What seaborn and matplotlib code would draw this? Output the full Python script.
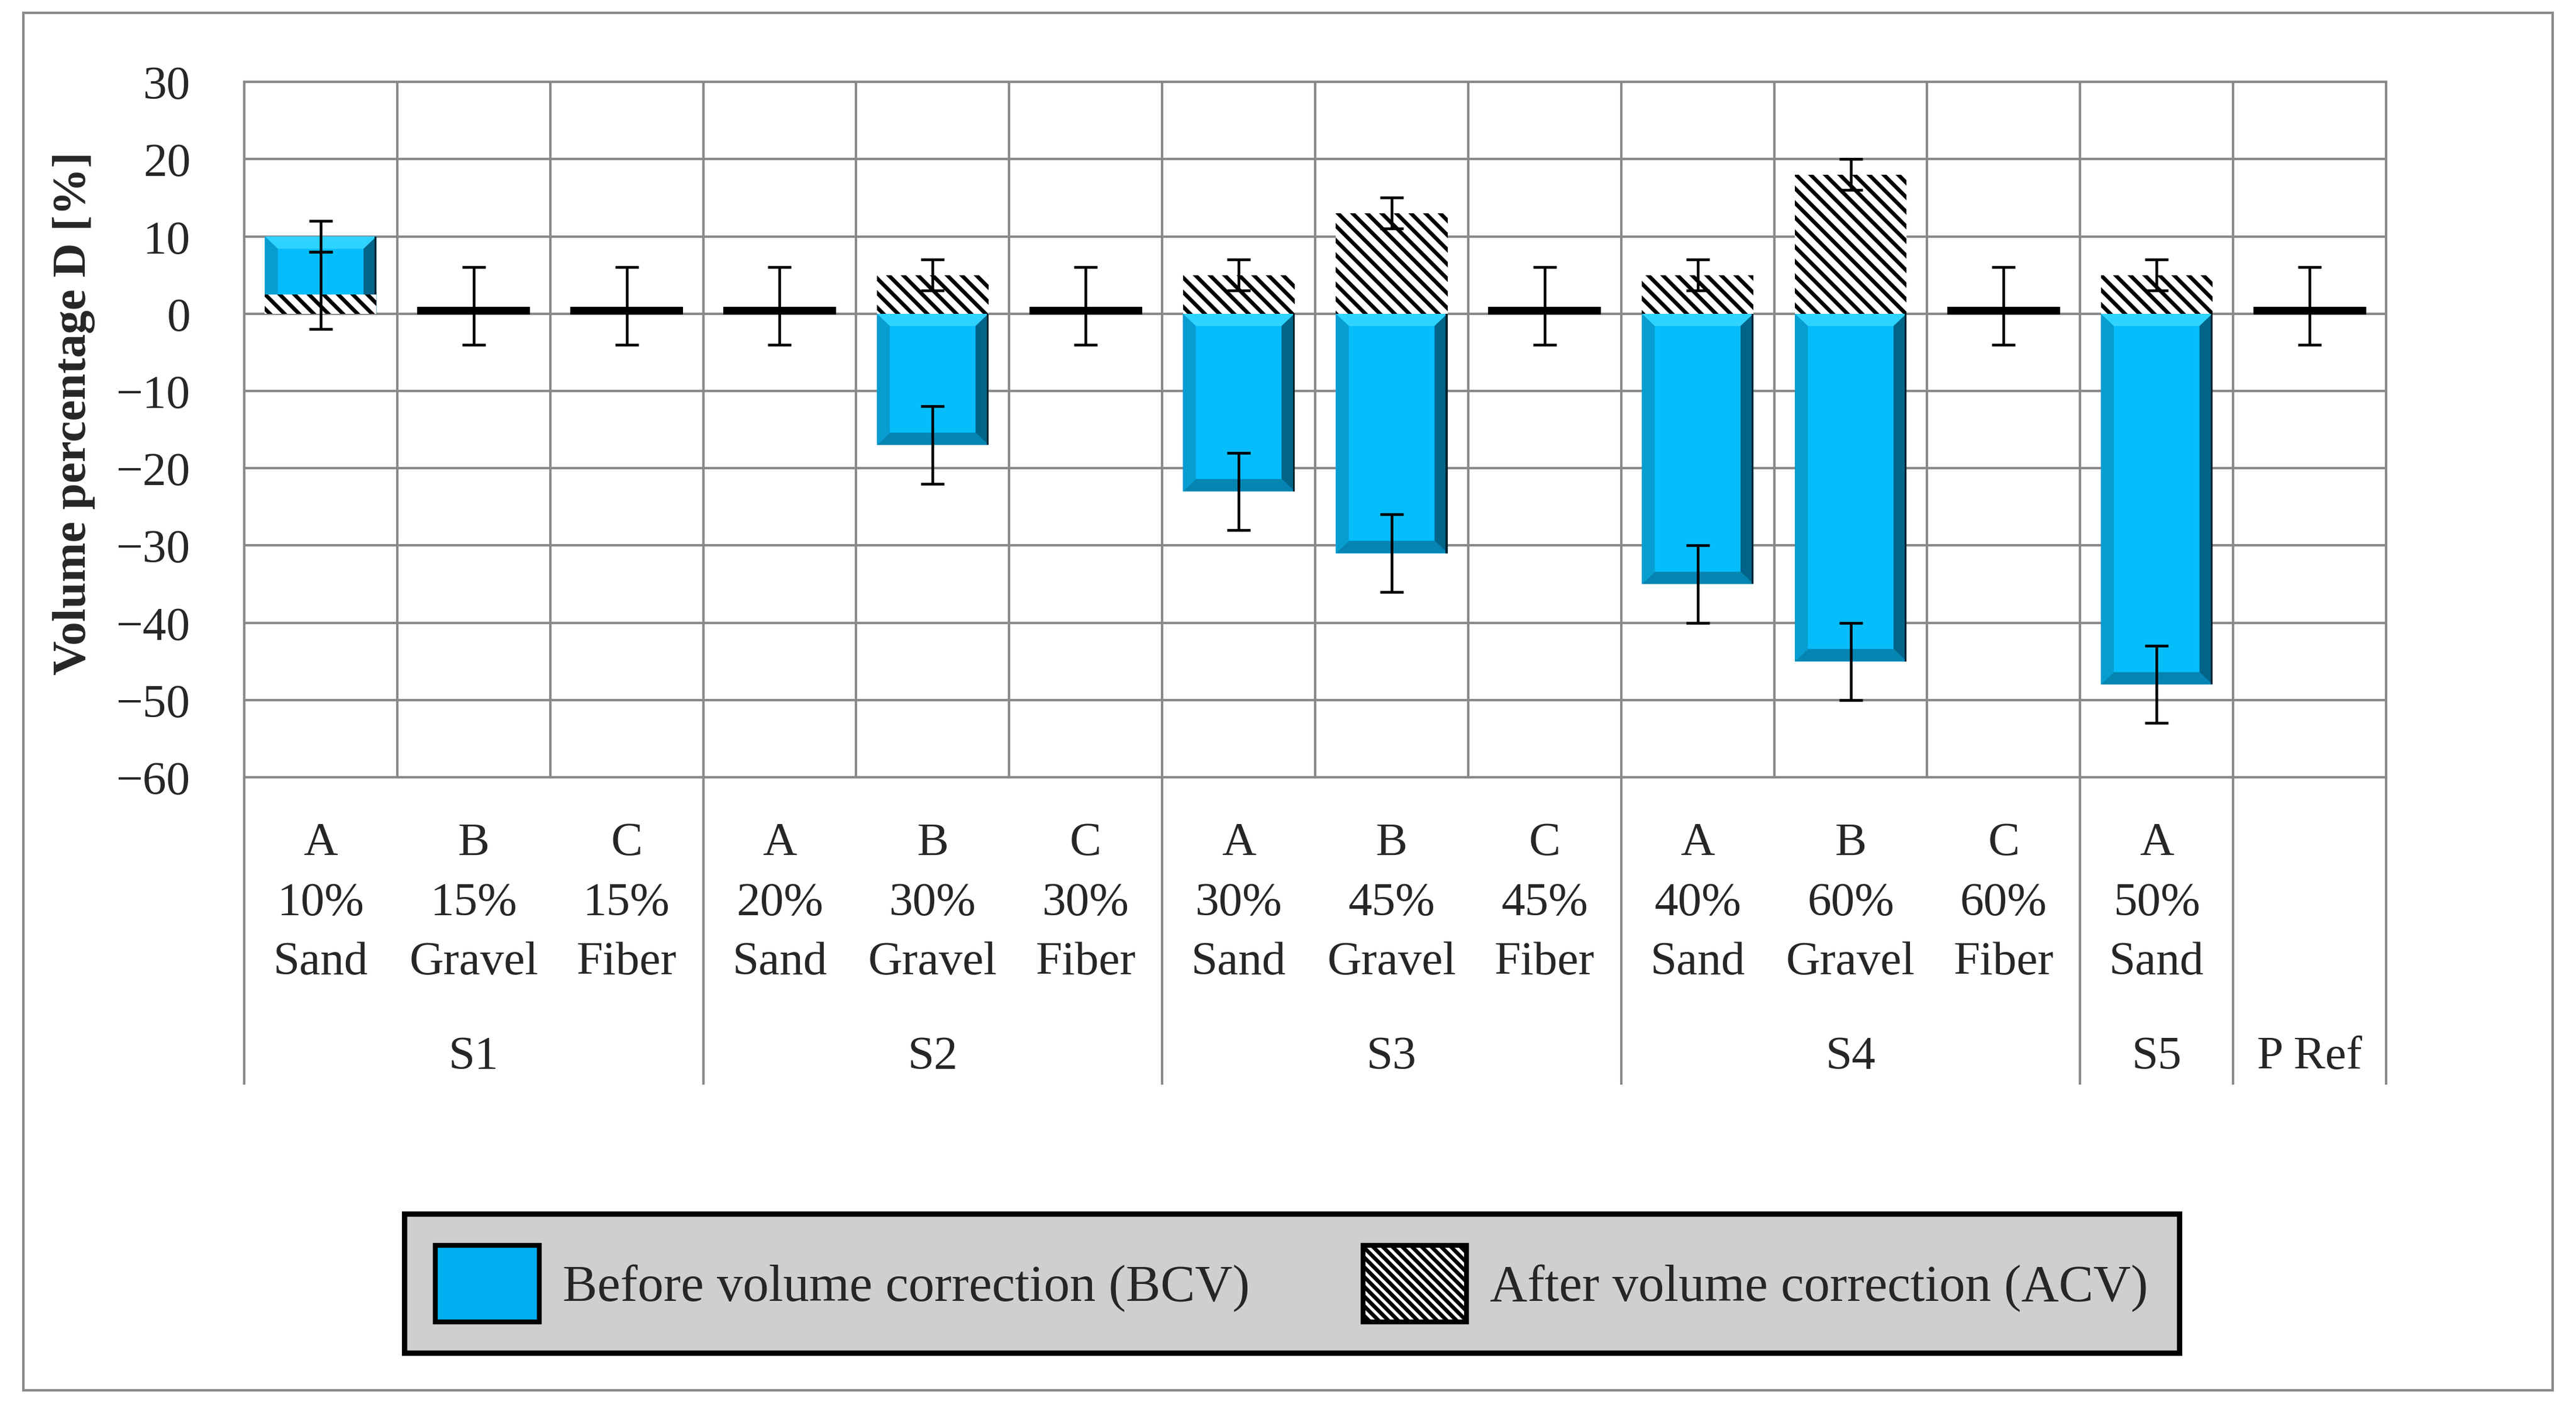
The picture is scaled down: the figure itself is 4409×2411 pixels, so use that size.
import numpy as np
import pandas as pd
import matplotlib
matplotlib.use('Agg')
import matplotlib.pyplot as plt
import matplotlib.transforms as mtransforms
from matplotlib.patches import Patch, Rectangle, Polygon
import seaborn as sns

#%%
'''Data'''
groups = ['S1', 'S1', 'S1', 'S2', 'S2', 'S2', 'S3', 'S3', 'S3', 'S4', 'S4', 'S4', 'S5', 'P Ref']
letters = ['A', 'B', 'C', 'A', 'B', 'C', 'A', 'B', 'C', 'A', 'B', 'C', 'A', '']
percents = ['10%', '15%', '15%', '20%', '30%', '30%', '30%', '45%', '45%', '40%', '60%', '60%', '50%', '']
materials = ['Sand', 'Gravel', 'Fiber', 'Sand', 'Gravel', 'Fiber', 'Sand', 'Gravel', 'Fiber',
             'Sand', 'Gravel', 'Fiber', 'Sand', '']

# before volume correction
bcv = [10, 0, 0, 0, -17, 0, -23, -31, 0, -35, -45, 0, -48, 0]
bcv_lo = [8, np.nan, np.nan, np.nan, -22, np.nan, -28, -36, np.nan, -40, -50, np.nan, -53, np.nan]
bcv_hi = [12, np.nan, np.nan, np.nan, -12, np.nan, -18, -26, np.nan, -30, -40, np.nan, -43, np.nan]

# after volume correction
acv = [2.5, 0.8, 0.8, 0.8, 5, 0.8, 5, 13, 0.8, 5, 18, 0.8, 5, 0.8]
acv_lo = [-2, -4, -4, -4, 3, -4, 3, 11, -4, 3, 16, -4, 3, -4]
acv_hi = [8, 6, 6, 6, 7, 6, 7, 15, 6, 7, 20, 6, 7, 6]

yticks = [-60, -50, -40, -30, -20, -10, 0, 10, 20, 30]

#%%
'''Plot'''
sns.set_theme(style='white')
plt.rcParams['font.family'] = ['Liberation Serif', 'DejaVu Serif']
plt.rcParams['hatch.linewidth'] = 1.6

blue = '#05BDFB'
grid_c = '#898989'
fs = 19.5

fig = plt.figure(figsize=(4409 / 300, 2412 / 300), dpi=300)
ax = fig.add_axes([0.0948, 0.4482, 0.8315, 0.4933])

ids = [f'{g}-{i}' for i, g in enumerate(groups)]
df = pd.DataFrame({'id': ids, 'bcv': bcv, 'acv': acv})

sns.barplot(data=df, x='id', y='bcv', order=ids, color=blue, saturation=1,
            width=0.73, errorbar=None, ax=ax)
n_bcv = len(ax.patches)

# simple bevel look on the blue bars (built from the bar patches)
dx = 0.085
dy = 1.6
for p in ax.patches[:n_bcv]:
    p.set_linewidth(0)
    h = p.get_height()
    if abs(h) < 1e-9:
        continue
    x0, w, y0 = p.get_x(), p.get_width(), p.get_y()
    y1 = y0 + h
    top, bot = max(y0, y1), min(y0, y1)
    d = min(dy, (top - bot) / 2)
    faces = [
        ([(x0, top), (x0 + w, top), (x0 + w - dx, top - d), (x0 + dx, top - d)], '#2FD3FF'),
        ([(x0, bot), (x0 + w, bot), (x0 + w - dx, bot + d), (x0 + dx, bot + d)], '#0785B2'),
        ([(x0, top), (x0 + dx, top - d), (x0 + dx, bot + d), (x0, bot)], '#079DD0'),
        ([(x0 + w, top), (x0 + w - dx, top - d), (x0 + w - dx, bot + d), (x0 + w, bot)], '#036489'),
    ]
    for pts, c in faces:
        ax.add_patch(Polygon(pts, closed=True, facecolor=c, edgecolor='none', zorder=p.get_zorder()))
    ax.add_patch(Rectangle((x0 + w - 0.012, bot), 0.012, top - bot, facecolor='#02222E',
                           edgecolor='none', zorder=p.get_zorder()))

n_all = len(ax.patches)
sns.barplot(data=df, x='id', y='acv', order=ids, color='white', saturation=1,
            width=0.73, errorbar=None, ax=ax)
for p, v in zip(ax.patches[n_all:], acv):
    p.set_zorder(3)
    if v < 1:
        p.set_facecolor('black')
        p.set_edgecolor('black')
        p.set_linewidth(0.5)
    else:
        p.set_facecolor('white')
        p.set_edgecolor('black')
        p.set_hatch('\\' * 4)
        p.set_linewidth(0)

# error bars
xs = np.arange(len(ids))
for lo, hi in [(bcv_lo, bcv_hi), (acv_lo, acv_hi)]:
    lo = np.array(lo, dtype=float)
    hi = np.array(hi, dtype=float)
    ok = ~np.isnan(lo)
    ax.errorbar(xs[ok], (lo[ok] + hi[ok]) / 2, yerr=(hi[ok] - lo[ok]) / 2, fmt='none',
                ecolor='black', elinewidth=1.1, capsize=4.8, capthick=1.1, zorder=5)

ax.set_xlim(-0.5, len(ids) - 0.5)
ax.set_ylim(-60, 30)
ax.set_yticks(yticks)
ax.set_yticklabels([str(t).replace('-', '\u2212') for t in yticks], fontsize=fs)
ax.set_xticks(np.arange(-0.5, len(ids), 1))
ax.set_xticklabels([])
ax.tick_params(axis='both', length=0)
ax.tick_params(axis='y', pad=22)
ax.set_xlabel('')
ax.set_ylabel('')
ax.set_axisbelow(True)
ax.grid(True, color=grid_c, lw=1.0)
for s in ax.spines.values():
    s.set_color(grid_c)
    s.set_linewidth(1.0)

# category labels below the plot
trans = mtransforms.blended_transform_factory(ax.transData, ax.transAxes)
for i in range(len(ids)):
    ax.text(i, -0.095, letters[i], transform=trans, ha='center', va='center', fontsize=fs)
    ax.text(i, -0.181, percents[i], transform=trans, ha='center', va='center', fontsize=fs)
    ax.text(i, -0.266, materials[i], transform=trans, ha='center', va='center', fontsize=fs)

# group labels and separators
bounds = [-0.5]
names = [groups[0]]
for i in range(1, len(groups)):
    if groups[i] != groups[i - 1]:
        bounds.append(i - 0.5)
        names.append(groups[i])
bounds.append(len(groups) - 0.5)
ax.vlines(bounds, -0.442, 0, transform=trans, colors=grid_c, lw=1.0, clip_on=False)
for k, nm in enumerate(names):
    ax.text((bounds[k] + bounds[k + 1]) / 2, -0.402, nm, transform=trans,
            ha='center', va='center', fontsize=fs)

fig.text(127 / 4409, 1 - 707 / 2412, 'Volume percentage D [%]', rotation=90,
         ha='center', va='center', fontsize=fs, fontweight='bold')

# outer border
fig.add_artist(Rectangle((40 / 4409, 1 - 2380 / 2412), (4369 - 40) / 4409, (2380 - 23) / 2412,
                         transform=fig.transFigure, fill=False, edgecolor=grid_c, lw=1.0))

handles = [Patch(facecolor='#00B0F0', edgecolor='black', lw=2.0),
           Patch(facecolor='white', edgecolor='black', hatch='\\' * 6, lw=2.0)]
leg = fig.legend(handles, ['Before volume correction (BCV)', 'After volume correction (ACV)'],
                 loc='center', bbox_to_anchor=(0.157, 0.036, 0.689, 0.106), mode='expand',
                 ncol=2, frameon=True, fancybox=False, facecolor='#D0CECF', edgecolor='black',
                 framealpha=1, fontsize=21.3, handlelength=2.0, handleheight=1.9,
                 handletextpad=0.45, borderpad=0.6, borderaxespad=0)
leg.get_frame().set_linewidth(2.2)

plt.savefig('out.png', dpi=300)
